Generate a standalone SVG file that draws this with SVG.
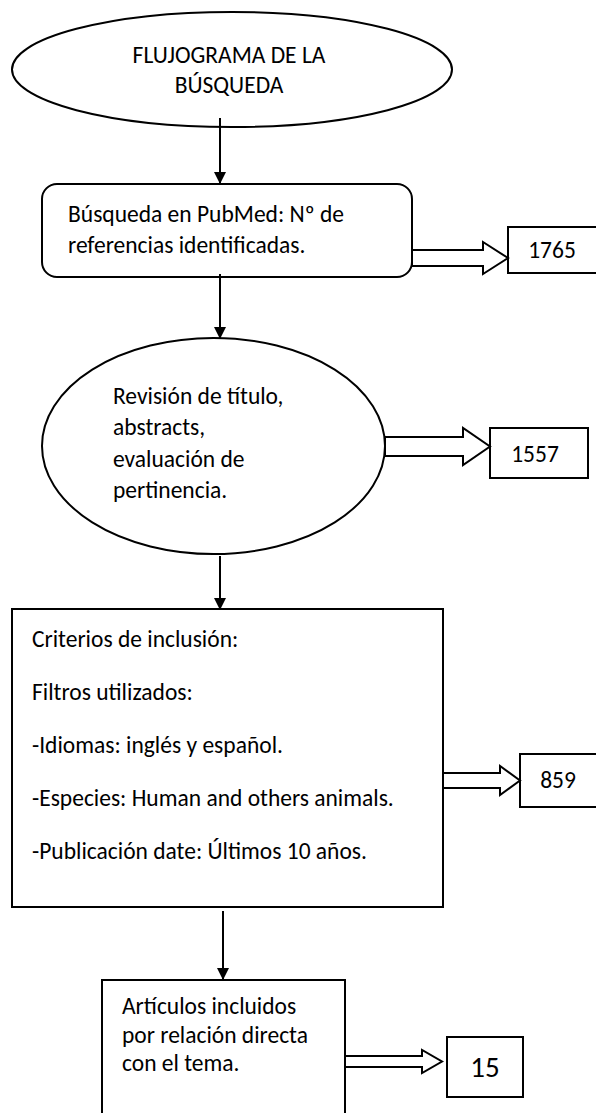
<svg xmlns="http://www.w3.org/2000/svg" width="596" height="1113" viewBox="0 0 596 1113">
<defs>
<style>
.shape{fill:#fff;stroke:#000;stroke-width:2}
.t{font-family:Carlito,Lato,"Liberation Sans",sans-serif;font-size:23.5px;fill:#000}
.n{font-family:Carlito,Lato,"Liberation Sans",sans-serif;font-size:23.5px;fill:#000;text-anchor:middle}
.line{stroke:#000;stroke-width:2;fill:none}
.block{fill:#fff;stroke:#000;stroke-width:2;stroke-linejoin:miter}
</style>
<marker id="ah" viewBox="0 0 12 12" refX="12" refY="6" markerWidth="12" markerHeight="12" markerUnits="userSpaceOnUse" orient="auto">
<path d="M0,0 L12,6 L0,12 Z" fill="#000"/>
</marker>
</defs>
<rect width="596" height="1113" fill="#fff"/>

<g id="n-title">
<ellipse class="shape" cx="232" cy="69.5" rx="220" ry="57.5"/>
<text class="t" x="229" y="63" text-anchor="middle">FLUJOGRAMA DE LA</text>
<text class="t" x="229" y="93" text-anchor="middle">BÚSQUEDA</text>
</g>

<g id="n-pubmed">
<rect class="shape" x="42" y="184" width="370" height="93" rx="15"/>
<text class="t" x="68" y="222">Búsqueda en PubMed: Nº de</text>
<text class="t" x="68" y="253">referencias identificadas.</text>
</g>

<g id="n-1765">
<rect class="shape" x="508" y="227" width="89" height="46"/>
<text class="n" x="552" y="258">1765</text>
</g>

<g id="n-revision">
<ellipse class="shape" cx="213.5" cy="446" rx="171.5" ry="108"/>
<text class="t" x="113" y="404">Revisión de título,</text>
<text class="t" x="113" y="435">abstracts,</text>
<text class="t" x="113" y="467">evaluación de</text>
<text class="t" x="113" y="498">pertinencia.</text>
</g>

<g id="n-1557">
<rect class="shape" x="490" y="428" width="98" height="50"/>
<text class="n" x="535" y="462">1557</text>
</g>

<g id="n-criterios">
<rect class="shape" x="12" y="609" width="431" height="298"/>
<text class="t" x="32" y="647">Criterios de inclusión:</text>
<text class="t" x="32" y="700">Filtros utilizados:</text>
<text class="t" x="32" y="753">-Idiomas: inglés y español.</text>
<text class="t" x="32" y="806">-Especies: Human and others animals.</text>
<text class="t" x="32" y="859">-Publicación date: Últimos 10 años.</text>
</g>

<g id="n-859">
<rect class="shape" x="520" y="754" width="77" height="53"/>
<text class="n" x="558" y="788">859</text>
</g>

<g id="n-articulos">
<rect class="shape" x="102" y="980" width="243" height="140"/>
<text class="t" x="122" y="1014">Artículos incluidos</text>
<text class="t" x="122" y="1043">por relación directa</text>
<text class="t" x="122" y="1071">con el tema.</text>
</g>

<g id="n-15">
<rect class="shape" x="447" y="1037" width="76" height="60"/>
<text class="n" x="485" y="1077" style="font-size:29px">15</text>
</g>

<g id="connectors">
<line class="line" x1="220" y1="118" x2="220" y2="184" marker-end="url(#ah)"/>
<line class="line" x1="220" y1="274" x2="220" y2="339" marker-end="url(#ah)"/>
<line class="line" x1="220" y1="556" x2="220" y2="610" marker-end="url(#ah)"/>
<line class="line" x1="223" y1="911" x2="223" y2="980" marker-end="url(#ah)"/>
<polygon class="block" points="412,250 483,250 483,242 508,258 483,274 483,266 412,266"/>
<polygon class="block" points="385,437 463,437 463,428 490,446.5 463,465 463,456 385,456"/>
<polygon class="block" points="443,773 500,773 500,766 520,780.5 500,795 500,788 443,788"/>
<polygon class="block" points="345,1056 422,1056 422,1050 442,1061.5 422,1073 422,1067 345,1067"/>
</g>
</svg>
